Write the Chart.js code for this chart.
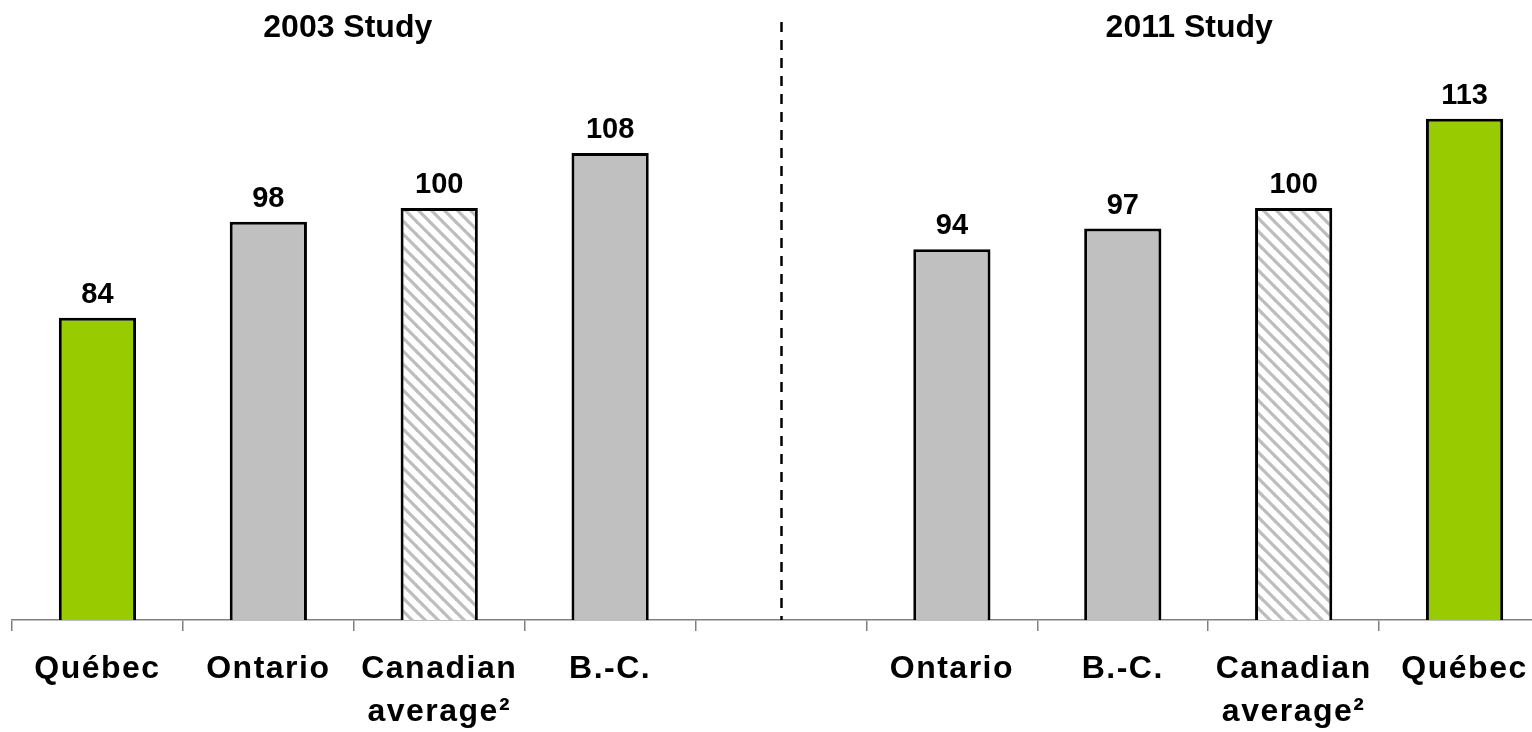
<!DOCTYPE html>
<html>
<head>
<meta charset="utf-8">
<title>Regional index – 2003 and 2011 studies</title>
<script src="https://cdn.jsdelivr.net/npm/chart.js@4.4.1/dist/chart.umd.min.js"></script>
<style>
  html, body { margin: 0; padding: 0; background: #ffffff; overflow: hidden; }
  #wrap { width: 1532px; height: 732px; overflow: hidden; }
  canvas { display: block; }
</style>
</head>
<body>
<div id="wrap"><canvas id="chart" width="1560" height="732"></canvas></div>
<script>
// Categories: 2003 group, an empty spacer slot, then the 2011 group
const categories = [
  'Québec', 'Ontario', ['Canadian', 'average²'], 'B.-C.',
  '',
  'Ontario', 'B.-C.', ['Canadian', 'average²'], 'Québec'
];
// Index values (Canadian average = 100)
const indexValues = [84, 98, 100, 108, null, 94, 97, 100, 113];
// Group headings and the category ranges they sit over
const groupTitles = ['2003 Study', '2011 Study'];
const groupRanges = [[0, 3], [5, 8]];

const FONT = '"Liberation Sans", Arial, Helvetica, sans-serif';

// Diagonal hatch used for the Canadian average bars
function makeHatch() {
  const s = 13;
  const c = document.createElement('canvas');
  c.width = s; c.height = s;
  const g = c.getContext('2d');
  g.fillStyle = '#ffffff';
  g.fillRect(0, 0, s, s);
  g.strokeStyle = '#bdbdbd';
  g.lineWidth = 3.2;
  for (let k = -1; k <= 1; k++) {
    g.beginPath();
    g.moveTo(-1, k * s - 1);
    g.lineTo(s + 1, s + k * s + 1);
    g.stroke();
  }
  return g.createPattern(c, 'repeat');
}
const hatch = makeHatch();

function fillFor(label) {
  const name = Array.isArray(label) ? label[0] : label;
  if (name === 'Québec') return '#99cc00';
  if (name === 'Canadian') return hatch;
  return '#c0c0c0';
}

// Slightly wider spacing for the category labels only
const tickSpacing = {
  id: 'tickSpacing',
  beforeDraw(chart) { chart.ctx.letterSpacing = '1.5px'; },
  beforeDatasetsDraw(chart) { chart.ctx.letterSpacing = '0px'; }
};

// Divider between the two studies, value labels and group headings
const decorations = {
  id: 'decorations',
  afterDatasetsDraw(chart) {
    const ctx = chart.ctx;
    const x = chart.scales.x;
    const area = chart.chartArea;
    ctx.save();
    ctx.letterSpacing = '0px';

    // dashed divider through the spacer slot
    const dx = Math.round(x.getPixelForValue(4)) + 0.5;
    ctx.strokeStyle = '#000000';
    ctx.lineWidth = 2.5;
    ctx.setLineDash([10, 8]);
    ctx.beginPath();
    ctx.moveTo(dx, 22);
    ctx.lineTo(dx, area.bottom);
    ctx.stroke();
    ctx.setLineDash([]);

    // value labels above each bar
    ctx.fillStyle = '#000000';
    ctx.font = 'bold 29px ' + FONT;
    ctx.textAlign = 'center';
    ctx.textBaseline = 'alphabetic';
    const meta = chart.getDatasetMeta(0);
    meta.data.forEach((bar, i) => {
      const v = indexValues[i];
      if (v == null) return;
      ctx.fillText(String(v), bar.x, bar.y - 15);
    });

    // study headings
    ctx.font = 'bold 32px ' + FONT;
    const shifts = [-6, -19];
    groupTitles.forEach((t, i) => {
      const [a, b] = groupRanges[i];
      const cx = (x.getPixelForValue(a) + x.getPixelForValue(b)) / 2 + shifts[i];
      ctx.fillText(t, cx, 37);
    });
    ctx.restore();
  }
};

new Chart(document.getElementById('chart'), {
  type: 'bar',
  data: {
    labels: categories,
    datasets: [{
      data: indexValues,
      backgroundColor: categories.map(fillFor),
      borderColor: '#000000',
      borderWidth: 3,
      borderSkipped: false,
      barPercentage: 0.452,
      categoryPercentage: 1.0
    }]
  },
  options: {
    responsive: false,
    animation: false,
    devicePixelRatio: 1,
    layout: { padding: { left: 12, right: 10, top: 2, bottom: 0 } },
    plugins: { legend: { display: false }, tooltip: { enabled: false } },
    scales: {
      y: {
        display: false,
        min: 40,
        max: 130
      },
      x: {
        afterFit(scale) { scale.height = 112; },
        border: { display: true, color: '#808080', width: 1.5 },
        grid: {
          display: true,
          offset: true,
          drawOnChartArea: false,
          drawTicks: true,
          tickLength: 11,
          color: '#808080',
          lineWidth: 1.5
        },
        ticks: {
          autoSkip: false,
          maxRotation: 0,
          padding: 17,
          color: '#000000',
          font: { family: FONT, size: 32, weight: 'bold', lineHeight: 1.34 }
        }
      }
    }
  },
  plugins: [tickSpacing, decorations]
});
</script>
</body>
</html>
